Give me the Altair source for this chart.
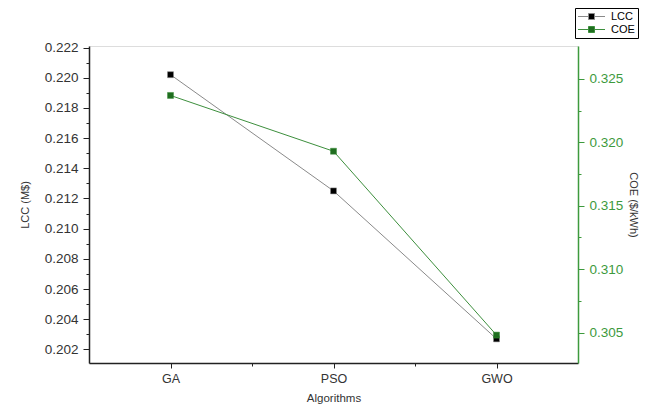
import altair as alt
import pandas as pd

algorithms = ["GA", "PSO", "GWO"]
lcc = [0.2202, 0.2125, 0.2027]
coe = [0.3237, 0.3193, 0.3048]
series = ["LCC", "COE"]
fill_colors = ["#000000", "#1f6e1f"]
line_colors = ["#8a8a8a", "#3d8f3d"]

lcc_ticks = [0.202, 0.203, 0.204, 0.205, 0.206, 0.207, 0.208, 0.209, 0.210, 0.211,
             0.212, 0.213, 0.214, 0.215, 0.216, 0.217, 0.218, 0.219, 0.220, 0.221, 0.222]
coe_ticks = [0.305, 0.3075, 0.310, 0.3125, 0.315, 0.3175, 0.320, 0.3225, 0.325]
x_ticks = [1, 1.5, 2, 2.5, 3]

pos = list(range(1, len(algorithms) + 1))
df_lcc = pd.DataFrame({"alg": algorithms, "idx": pos, "value": lcc, "series": series[0]})
df_coe = pd.DataFrame({"alg": algorithms, "idx": pos, "value": coe, "series": series[1]})

FONT = "Liberation Sans"
GREEN = "#3d9a3d"

x_label_expr = " : ".join(
    [f"datum.value == {p} ? '{a}'" for p, a in zip(pos, algorithms)]
) + " : ''"

x_enc = alt.X(
    "idx:Q",
    scale=alt.Scale(domain=[0.5, 3.5], nice=False, zero=False),
    axis=alt.Axis(
        values=x_ticks, labelExpr=x_label_expr, title="Algorithms", grid=False,
        tickSize={"condition": {"test": "datum.value % 1 != 0", "value": 3}, "value": 5},
        domainColor="#222", tickColor="#222", domainWidth=1.5, labelColor="#333",
        labelFontSize=12.5, titleFontSize=11.5, titleColor="#333", labelPadding=4,
        titlePadding=8, labelFont=FONT, titleFont=FONT, titleFontWeight="normal",
    ),
)

legend = alt.Legend(
    title=None, orient="none", legendX=486, legendY=-38,
    strokeColor="#000", fillColor="#fff", padding=3,
    symbolType="M-4.5,0H-1M1,0H4.5M-1,-1H1V1H-1Z", symbolSize=36,
    symbolOffset=8, labelOffset=14, symbolStrokeWidth=1, rowPadding=1,
    labelFontSize=11, labelFont=FONT, labelColor="#000",
)
fill_enc = alt.Fill("series:N", scale=alt.Scale(domain=series, range=fill_colors), legend=legend)
stroke_enc = alt.Stroke("series:N", scale=alt.Scale(domain=series, range=line_colors), legend=legend)

y_left = alt.Y(
    "value:Q",
    scale=alt.Scale(domain=[0.2011, 0.2221], nice=False, zero=False),
    axis=alt.Axis(
        orient="left", values=lcc_ticks, title="LCC (M$)", grid=False,
        labelExpr="round(datum.value * 1000) % 2 == 0 ? format(datum.value, '.3f') : ''",
        tickSize={"condition": {"test": "round(datum.value * 1000) % 2 != 0", "value": 3}, "value": 6},
        domainColor="#222", tickColor="#222", domainWidth=1.5, labelColor="#333",
        labelFontSize=13.5, titleFontSize=11, titleColor="#333", labelPadding=5,
        titlePadding=14, labelFont=FONT, titleFont=FONT, titleFontWeight="normal",
    ),
)

y_right = alt.Y(
    "value:Q",
    scale=alt.Scale(domain=[0.3026, 0.3276], nice=False, zero=False),
    axis=alt.Axis(
        orient="right", values=coe_ticks, title="COE ($/kWh)", grid=False,
        labelExpr="round(datum.value * 10000) % 50 == 0 ? format(datum.value, '.3f') : ''",
        tickSize={"condition": {"test": "round(datum.value * 10000) % 50 != 0", "value": 3}, "value": 6},
        domainColor=GREEN, tickColor=GREEN, domainWidth=1.5, labelColor=GREEN,
        labelFontSize=13.5, titleFontSize=11, titleColor="#333", labelPadding=5,
        titlePadding=5, labelFont=FONT, titleFont=FONT, titleFontWeight="normal",
    ),
)


def series_layer(df, y):
    base = alt.Chart(df).encode(x=x_enc, y=y)
    line = base.mark_line(strokeWidth=1).encode(stroke=stroke_enc)
    pts = base.mark_point(filled=True, shape="square", size=36, opacity=1, strokeWidth=0.5).encode(
        fill=fill_enc, stroke=stroke_enc
    )
    return alt.layer(line, pts)


chart = (
    alt.layer(series_layer(df_lcc, y_left), series_layer(df_coe, y_right))
    .resolve_scale(y="independent")
    .properties(
        width=489, height=317,
        autosize=alt.AutoSizeParams(type="none"),
        padding={"left": 81, "top": 38, "right": 65, "bottom": 42},
    )
    .configure_view(stroke="#888", strokeWidth=1)
    .configure(background="white")
)

chart.save("out.html", embed_options={"renderer": "svg", "actions": False})
